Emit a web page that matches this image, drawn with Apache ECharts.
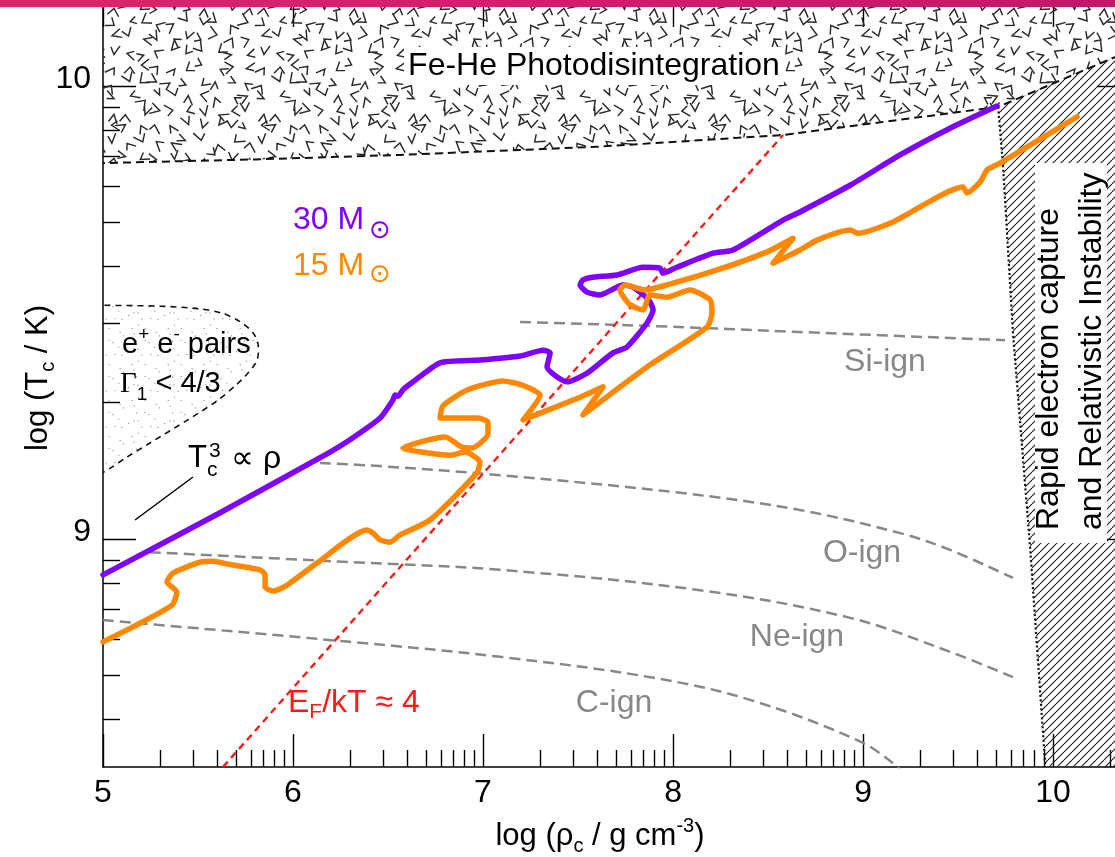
<!DOCTYPE html>
<html>
<head>
<meta charset="utf-8">
<title>Central temperature vs density</title>
<script src="https://cdn.jsdelivr.net/npm/echarts@6/dist/echarts.min.js"></script>
<style>
  html, body { margin: 0; padding: 0; background: #fff; }
  #chart { width: 1115px; height: 857px; }
</style>
</head>
<body>
<div id="chart"></div>
<script>
// ---- axis ticks -----------------------------------------------------------
const xTickLabels = [5, 6, 7, 8, 9, 10];
const yTickLabels = [9, 10];

// ---- evolutionary tracks: [log rho_c, log T_c] ----------------------------
const track30 = [
  [5.000, 8.921], [5.616, 9.058], [6.195, 9.192], [6.300, 9.219], [6.458, 9.267],
  [6.526, 9.307], [6.537, 9.318], [6.552, 9.315], [6.580, 9.330], [6.632, 9.347],
  [6.774, 9.389], [6.984, 9.395], [7.195, 9.404], [7.316, 9.417], [7.353, 9.411],
  [7.337, 9.380], [7.389, 9.358], [7.442, 9.347], [7.547, 9.366], [7.684, 9.411],
  [7.758, 9.424], [7.863, 9.477], [7.895, 9.506], [7.879, 9.523], [7.863, 9.532],
  [7.789, 9.556], [7.737, 9.561], [7.616, 9.539], [7.547, 9.545], [7.511, 9.561],
  [7.526, 9.572], [7.579, 9.578], [7.705, 9.583], [7.842, 9.600], [7.932, 9.598],
  [7.947, 9.587], [8.021, 9.600], [8.211, 9.631], [8.316, 9.638], [8.579, 9.704],
  [8.668, 9.722], [8.932, 9.781], [9.195, 9.848], [9.458, 9.907], [9.705, 9.956]
];
const track15 = [
  [5.000, 8.773], [5.158, 8.806], [5.363, 8.854], [5.389, 8.883], [5.337, 8.905],
  [5.368, 8.925], [5.511, 8.949], [5.579, 8.951], [5.653, 8.945], [5.826, 8.932],
  [5.853, 8.921], [5.853, 8.894], [5.895, 8.885], [5.968, 8.898], [6.126, 8.947],
  [6.389, 9.020], [6.421, 9.013], [6.458, 8.998], [6.511, 8.993], [6.563, 9.009],
  [6.721, 9.042], [6.968, 9.146], [6.984, 9.170], [6.905, 9.192], [6.826, 9.185],
  [6.579, 9.201], [6.800, 9.225], [6.889, 9.203], [6.942, 9.201], [7.026, 9.232],
  [7.026, 9.258], [6.974, 9.267], [6.774, 9.267], [6.789, 9.294], [6.916, 9.329],
  [7.105, 9.349], [7.205, 9.340], [7.300, 9.318], [7.211, 9.263], [7.511, 9.313],
  [7.632, 9.336], [7.526, 9.274], [7.863, 9.380], [8.179, 9.468], [8.205, 9.499],
  [8.195, 9.528], [8.089, 9.550], [7.968, 9.534], [7.879, 9.539], [7.842, 9.506],
  [7.774, 9.517], [7.721, 9.550], [7.747, 9.561], [7.853, 9.550], [7.968, 9.561],
  [8.232, 9.594], [8.495, 9.634], [8.632, 9.664], [8.526, 9.609], [8.668, 9.638],
  [8.758, 9.660], [8.932, 9.682], [8.974, 9.675], [9.158, 9.700], [9.526, 9.777],
  [9.547, 9.764], [9.616, 9.788], [9.653, 9.815], [9.721, 9.830], [10.126, 9.932]
];

// ---- burning thresholds -----------------------------------------------------
const siIgnition = [[7.195, 9.479], [7.900, 9.470], [8.668, 9.457], [9.747, 9.439]];
const oIgnition = [[6.142, 9.168], [6.458, 9.161], [7.089, 9.141], [8.037, 9.102],
  [8.668, 9.064], [9.195, 9.013], [9.458, 8.976], [9.789, 8.914]];
const neIgnition = [[5.247, 8.971], [6.300, 8.949], [7.089, 8.932], [8.142, 8.887],
  [8.932, 8.826], [9.458, 8.751], [9.789, 8.695]];
const cIgnition = [[5.000, 8.821], [6.300, 8.773], [7.089, 8.740], [7.879, 8.695],
  [8.405, 8.645], [9.000, 8.550], [9.200, 8.490]];

// E_F / kT ~ 4 degeneracy boundary
const degeneracyLine = [[5.632, 8.497], [8.579, 9.892]];

// ---- instability regions ----------------------------------------------------
const photodisEdge = [[4.90, 9.828], [5.000, 9.830], [5.800, 9.838], [6.563, 9.848],
  [7.600, 9.866], [8.579, 9.892], [9.711, 9.954], [10.326, 10.064], [10.500, 10.095]];
const photodisClose = [[10.500, 10.400], [4.900, 10.400]];

const captureEdge = [[9.711, 9.954], [9.737, 9.821], [9.789, 9.455], [9.879, 8.982],
  [9.958, 8.506], [9.962, 8.450]];
const captureClose = [[10.500, 8.450], [10.500, 10.095]];

const pairEdge = [[4.95, 9.516], [5.000, 9.516], [5.300, 9.514], [5.511, 9.508],
  [5.630, 9.498], [5.721, 9.480], [5.790, 9.455], [5.816, 9.430], [5.811, 9.395],
  [5.760, 9.365], [5.700, 9.340], [5.600, 9.305], [5.442, 9.262], [5.247, 9.212],
  [5.126, 9.181], [5.037, 9.156], [4.95, 9.136]];

// ---- styling ----------------------------------------------------------------
const SANS = '"Liberation Sans", Arial, Helvetica, sans-serif';
const SERIF = '"Liberation Serif", "Times New Roman", serif';
const SYMBOL = '"DejaVu Sans", sans-serif';
const PURPLE = '#7f00ff';
const ORANGE = '#ff8800';
const GREY = '#888888';
const RED = '#ff1a1a';

// Minor ticks of a logarithmic axis drawn in log units.
function logMinorTicks(lo, hi) {
  const out = [];
  for (let dec = Math.floor(lo) - 1; dec <= Math.ceil(hi); dec++) {
    for (let k = 2; k <= 9; k++) {
      const v = dec + Math.log10(k);
      if (v > lo && v < hi) out.push(+v.toFixed(4));
    }
  }
  return out;
}

// Deterministic generator for the fill textures.
function seeded(seed) {
  let s = seed;
  return () => { s = (s * 16807) % 2147483647; return s / 2147483647; };
}

// Scattered chevron texture for photodisintegration.
function chevronTile() {
  const size = 150, step = 15;
  const cv = document.createElement('canvas');
  cv.width = cv.height = size;
  const g = cv.getContext('2d');
  g.strokeStyle = '#2a2a2a';
  g.lineWidth = 1.45;
  g.lineJoin = 'miter';
  const rnd = seeded(424242);
  for (let i = 0; i < size / step; i++) {
    for (let j = 0; j < size / step; j++) {
      const cx = (i + 0.5) * step + (rnd() - 0.5) * 6;
      const cy = (j + 0.5) * step + (rnd() - 0.5) * 6;
      const dir = rnd() * Math.PI * 2;
      const spread = 0.4 + rnd() * 0.3;
      const a1 = 7 + rnd() * 4, a2 = 7 + rnd() * 4;
      for (const ox of [-size, 0, size]) {
        for (const oy of [-size, 0, size]) {
          const vx = cx + ox, vy = cy + oy;
          g.beginPath();
          g.moveTo(vx + Math.cos(dir - spread) * a1, vy + Math.sin(dir - spread) * a1);
          g.lineTo(vx, vy);
          g.lineTo(vx + Math.cos(dir + spread) * a2, vy + Math.sin(dir + spread) * a2);
          g.stroke();
        }
      }
    }
  }
  return cv;
}

// Diagonal hatching for electron-capture instability.
function hatchTile() {
  const s = 8;
  const cv = document.createElement('canvas');
  cv.width = cv.height = s;
  const g = cv.getContext('2d');
  g.strokeStyle = '#1a1a1a';
  g.lineWidth = 1.1;
  for (const k of [-1, 0, 1]) {
    g.beginPath();
    g.moveTo(k * s, s);
    g.lineTo(k * s + s, 0);
    g.stroke();
  }
  return cv;
}

// Fine stipple for the pair-instability zone.
function dotTile() {
  const size = 36;
  const cv = document.createElement('canvas');
  cv.width = cv.height = size;
  const g = cv.getContext('2d');
  g.fillStyle = '#8a8a8a';
  const rnd = seeded(9157);
  const step = 9;
  for (let i = 0; i < size / step; i++) {
    for (let j = 0; j < size / step; j++) {
      const x = i * step + rnd() * (step - 1), y = j * step + rnd() * (step - 1);
      g.fillRect(x, y, 1.1, 1.1);
    }
  }
  return cv;
}

// A filled region bounded by a styled edge, projected through the axes.
function regionSeries(name, edge, closing, fillImage, edgeStyle, smooth) {
  const outline = edge.concat(closing);
  return {
    name: name,
    type: 'custom',
    coordinateSystem: 'cartesian2d',
    clip: true,
    silent: true,
    z: 1,
    data: outline,
    renderItem: function (params, api) {
      if (params.dataIndex !== 0) return null;
      const poly = outline.map(p => api.coord(p));
      const line = edge.map(p => api.coord(p));
      return {
        type: 'group',
        children: [
          {
            type: 'polygon',
            shape: { points: poly, smooth: smooth },
            style: { fill: { image: fillImage, repeat: 'repeat' }, stroke: null }
          },
          {
            type: 'polyline',
            shape: { points: line, smooth: smooth },
            style: Object.assign({ fill: null, stroke: '#111' }, edgeStyle)
          }
        ]
      };
    }
  };
}

function dashed(name, data, color, width, dash, z) {
  return {
    name: name, type: 'line', data: data, smooth: 0.35, symbol: 'none',
    silent: true, z: z,
    lineStyle: { color: color, width: width, type: dash }
  };
}

// plot frame: x from 5 at the left edge, y from 8.4967 at the bottom edge
const xMin = 5, xMax = 10.326, yMin = 8.4967, yMax = 10.19;
const xMinor = logMinorTicks(xMin, xMax);
const yMinor = logMinorTicks(yMin, yMax);

const noLine = { show: false, onZero: false };
const axisLineStyle = { show: true, onZero: false, lineStyle: { color: '#000', width: 1.5 } };
const majorTick = (vals, len) => ({ show: true, inside: true, length: len || 33, customValues: vals,
  lineStyle: { color: '#000', width: 1.4 } });
const minorTick = (vals) => ({ show: true, inside: true, length: 17, customValues: vals,
  lineStyle: { color: '#000', width: 1.4 } });

function richWith(color, size) {
  const s = size || 32;
  const sub = Math.round(s * 0.66);
  return {
    n: { fontSize: s, fontFamily: SANS, lineHeight: 40, fill: color },
    g: { fontSize: s, fontFamily: SERIF, lineHeight: 40, fill: color },
    b: { fontSize: sub, fontFamily: SANS, lineHeight: 20, verticalAlign: 'bottom', fill: color },
    t: { fontSize: sub, fontFamily: SANS, lineHeight: 20, verticalAlign: 'top', fill: color }
  };
}

function label(x, y, text, color, extra) {
  return {
    type: 'text', x: x, y: y, z: 50, silent: true,
    style: Object.assign({
      text: text, fontSize: 32, fontFamily: SANS, fill: color || '#000',
      align: 'center', verticalAlign: 'middle'
    }, extra || {})
  };
}

const chart = echarts.init(document.getElementById('chart'), null, { renderer: 'canvas' });

const option = {
  animation: false,
  backgroundColor: '#fff',
  grid: { left: 103, right: 0, top: 0, bottom: 90, containLabel: false },
  xAxis: [
    {
      type: 'value', min: xMin, max: xMax, position: 'bottom',
      axisLine: axisLineStyle, axisTick: majorTick(xTickLabels),
      axisLabel: { customValues: xTickLabels, fontSize: 32, fontFamily: SANS, color: '#000', margin: 10 },
      splitLine: { show: false }
    },
    {
      type: 'value', min: xMin, max: xMax, position: 'bottom',
      axisLine: noLine, axisTick: minorTick(xMinor), axisLabel: { show: false },
      splitLine: { show: false }
    },
    {
      type: 'value', min: xMin, max: xMax, position: 'top',
      axisLine: noLine, axisTick: majorTick(xTickLabels, 27), axisLabel: { show: false },
      splitLine: { show: false }
    }
  ],
  yAxis: [
    {
      type: 'value', min: yMin, max: yMax, position: 'left',
      axisLine: axisLineStyle, axisTick: majorTick(yTickLabels),
      axisLabel: { customValues: yTickLabels, fontSize: 32, fontFamily: SANS, color: '#000',
        margin: 12, verticalAlign: 'bottom', lineHeight: 14 },
      splitLine: { show: false }
    },
    {
      type: 'value', min: yMin, max: yMax, position: 'left',
      axisLine: noLine, axisTick: minorTick(yMinor), axisLabel: { show: false },
      splitLine: { show: false }
    },
    {
      type: 'value', min: yMin, max: yMax, position: 'right',
      axisLine: noLine, axisTick: majorTick(yTickLabels, 18), axisLabel: { show: false },
      splitLine: { show: false }
    }
  ],
  series: [
    regionSeries('Fe-He photodisintegration', photodisEdge, photodisClose, chevronTile(),
      { lineWidth: 2, lineDash: [8, 5] }, 0),
    regionSeries('electron capture', captureEdge, captureClose, hatchTile(),
      { lineWidth: 2.2, lineDash: [2, 2.5] }, 0),
    regionSeries('pair instability', pairEdge, [], dotTile(),
      { lineWidth: 1.6, lineDash: [6, 5] }, 0.3),
    dashed('Si-ign', siIgnition, GREY, 2.5, [11, 6], 2),
    dashed('O-ign', oIgnition, GREY, 2.5, [11, 6], 2),
    dashed('Ne-ign', neIgnition, GREY, 2.5, [11, 6], 2),
    dashed('C-ign', cIgnition, GREY, 2.5, [11, 6], 2),
    {
      name: 'EF/kT', type: 'line', data: degeneracyLine, symbol: 'none', silent: true, z: 2,
      lineStyle: { color: RED, width: 2.4, type: [7, 5] }
    },
    {
      name: '30 Msun', type: 'line', data: track30, symbol: 'none', smooth: 0.2, z: 3,
      lineStyle: { color: PURPLE, width: 5.5, cap: 'round', join: 'round' }
    },
    {
      name: '15 Msun', type: 'line', data: track15, symbol: 'none', smooth: 0.2, z: 4,
      lineStyle: { color: ORANGE, width: 5.5, cap: 'round', join: 'round' }
    }
  ],
  graphic: [
    // top banner
    {
      type: 'rect', z: 200, silent: true, shape: { x: 0, y: 0, width: 1115, height: 7 },
      style: { fill: new echarts.graphic.LinearGradient(0, 0, 1, 0, [
        { offset: 0, color: '#e3226c' }, { offset: 1, color: '#c1186b' }]) }
    },
    label(594, 66, 'Fe-He Photodisintegration', '#000',
      { backgroundColor: '#fff', padding: [3, 4] }),
    { type: 'rect', z: 40, silent: true, shape: { x: 1035, y: 163, width: 72, height: 380 },
      style: { fill: '#fff' } },
    label(1049, 530, 'Rapid electron capture', '#000', { align: 'left' }),
    label(1092, 530, 'and Relativistic Instability', '#000', { align: 'left' }),
    // pair-instability wording
    label(122, 345, '{n|e}{t|+}{n| e}{t|-}{n| pairs}', '#000',
      { align: 'left', rich: richWith('#000', 29) }),
    label(120, 384, '{g|Γ}{b|1}{n| < 4/3}', '#000',
      { align: 'left', rich: richWith('#000', 29) }),
    // T_c^3 ∝ ρ with leader line
    label(188, 458, 'T', '#000', { align: 'left', fontSize: 31 }),
    label(209, 451, '3', '#000', { align: 'left', fontSize: 21 }),
    label(207, 470, 'c', '#000', { align: 'left', fontSize: 21 }),
    label(231, 459, '∝ ρ', '#000', { align: 'left', fontSize: 32 }),
    { type: 'line', z: 50, silent: true, shape: { x1: 135, y1: 520, x2: 193, y2: 477 },
      style: { stroke: '#000', lineWidth: 1.5 } },
    // track labels with solar-mass symbol set as a subscript
    label(293, 220, '30 M', PURPLE, { align: 'left' }),
    label(380, 231, '⊙', PURPLE, { fontSize: 26, fontFamily: SYMBOL }),
    label(293, 266, '15 M', ORANGE, { align: 'left' }),
    label(380, 275, '⊙', ORANGE, { fontSize: 26, fontFamily: SYMBOL }),
    // threshold labels
    label(885, 362, 'Si-ign', GREY),
    label(862, 553, 'O-ign', GREY),
    label(797, 637, 'Ne-ign', GREY),
    label(614, 703, 'C-ign', GREY),
    label(288, 703, '{n|E}{b|F}{n|/kT ≈ 4}', RED,
      { align: 'left', rich: richWith(RED, 32) }),
    // axis titles
    label(600, 836, '{n|log (ρ}{b|c}{n| / g cm}{t|-3}{n|)}', '#000',
      { rich: richWith('#000', 31) }),
    label(38, 378, '{n|log (T}{b|c}{n| / K)}', '#000',
      { rich: richWith('#000', 31) })
  ]
};

// vertical texts read bottom to top
option.graphic[3].rotation = Math.PI / 2;
option.graphic[4].rotation = Math.PI / 2;
option.graphic[option.graphic.length - 1].rotation = Math.PI / 2;

chart.setOption(option);
</script>
</body>
</html>
